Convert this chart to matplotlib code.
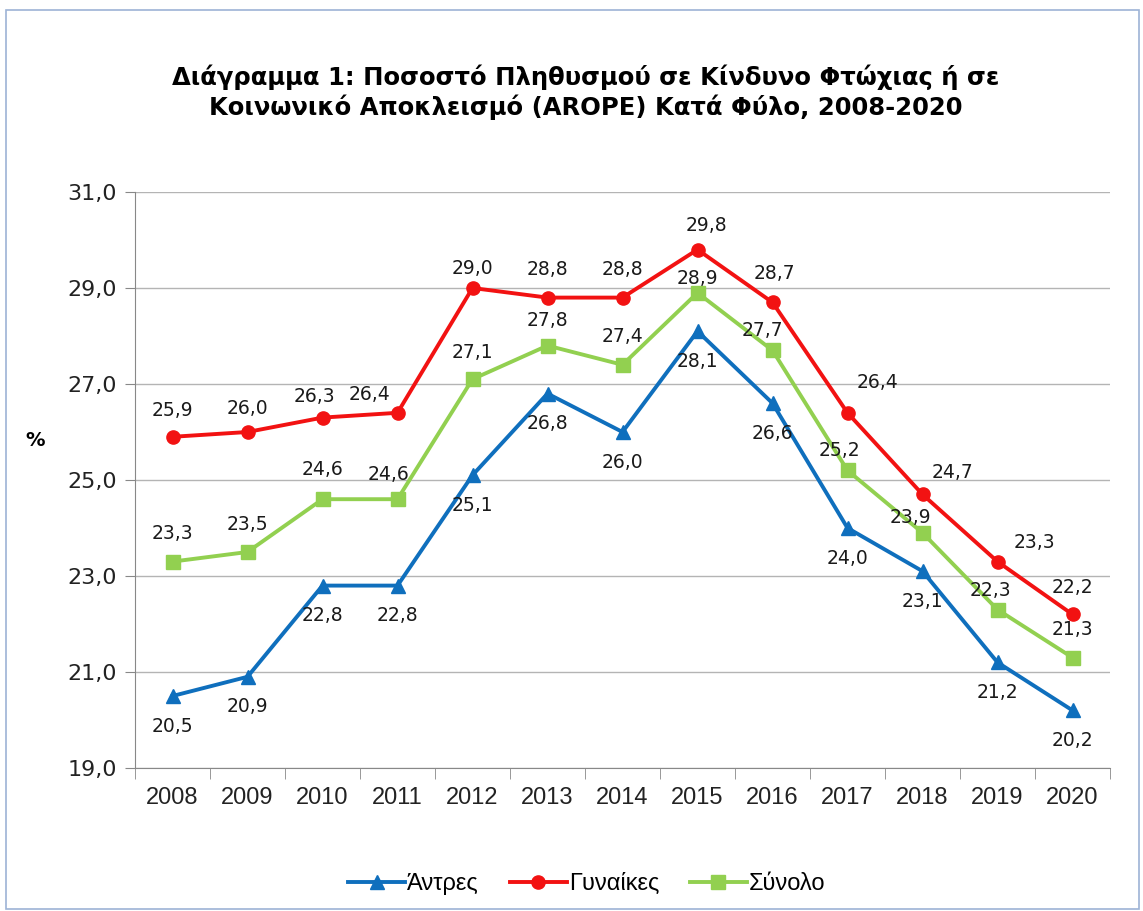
import matplotlib
matplotlib.use("Agg")
import matplotlib.pyplot as plt
from matplotlib.patches import Rectangle

# dati
years = [str(y) for y in range(2008, 2021)]
antres = [20.5, 20.9, 22.8, 22.8, 25.1, 26.8, 26.0, 28.1, 26.6, 24.0, 23.1, 21.2, 20.2]
gynaikes = [25.9, 26.0, 26.3, 26.4, 29.0, 28.8, 28.8, 29.8, 28.7, 26.4, 24.7, 23.3, 22.2]
synolo = [23.3, 23.5, 24.6, 24.6, 27.1, 27.8, 27.4, 28.9, 27.7, 25.2, 23.9, 22.3, 21.3]

# label offsets in pixels (dx, dy), dy up positive
off_antres = [(0, -30)] * 13
off_gyn = [(0, 26), (0, 24), (-8, 21), (-28, 18), (0, 20), (0, 28), (0, 28), (9, 24),
           (2, 29), (30, 30), (30, 22), (37, 19), (0, 27)]
off_syn = [(0, 28), (0, 28), (0, 30), (-9, 25), (0, 27), (0, 25), (0, 28), (0, 14),
           (-10, 20), (-8, 20), (-12, 15), (-7, 19), (0, 28)]

W, H = 1143, 911
fig = plt.figure(figsize=(W / 100, H / 100), dpi=100)
ax = fig.add_axes([135 / W, 1 - 768 / H, 975 / W, 576 / H])

# border round the chart
fig.patches.append(Rectangle((6 / W, 1 - 909 / H), 1133 / W, 899 / H, transform=fig.transFigure,
                             fill=False, edgecolor="#9db3d6", linewidth=1.2))

narrow = ["Liberation Sans Narrow", "Liberation Sans", "DejaVu Sans"]

x = list(range(len(years)))
series = [
    ("Άντρες", antres, "#0f6fbd", "^", off_antres),
    ("Γυναίκες", gynaikes, "#f21212", "o", off_gyn),
    ("Σύνολο", synolo, "#92d050", "s", off_syn),
]
for name, vals, col, mk, offs in series:
    ax.plot(x, vals, color=col, marker=mk, markersize=9.5, linewidth=2.8, label=name, zorder=3)
    for i, v in enumerate(vals):
        ax.annotate(f"{v:.1f}".replace(".", ","), (i, v), xytext=offs[i], textcoords="offset pixels",
                    ha="center", va="center", fontsize=13.5, color="#1a1a1a", zorder=4)

ax.set_xlim(-0.5, len(years) - 0.5)
ax.set_ylim(19, 31)
ax.set_yticks(range(19, 32, 2))
ax.set_yticklabels([f"{t},0" for t in range(19, 32, 2)], fontsize=16, color="#222222")
ax.set_xticks(x)
ax.set_xticklabels(years, fontsize=17, family=narrow, color="#222222")
ax.tick_params(axis="x", length=0, pad=14)
ax.set_xticks([i - 0.5 for i in range(len(years) + 1)], minor=True)
ax.tick_params(axis="x", which="minor", length=8, color="#888888", direction="out")
ax.tick_params(axis="y", length=7, color="#888888", pad=6)
ax.grid(axis="y", color="#b4b4b4", linewidth=1)
ax.set_axisbelow(True)
for s in ["top", "right"]:
    ax.spines[s].set_visible(False)
for s in ["left", "bottom"]:
    ax.spines[s].set_color("#888888")

fig.text(35 / W, 1 - 440 / H, "%", fontsize=14, fontweight="bold", ha="center", va="center")
fig.text(586 / W, 1 - 92 / H,
         "Διάγραμμα 1: Ποσοστό Πληθυσμού σε Κίνδυνο Φτώχιας ή σε\nΚοινωνικό Αποκλεισμό (AROPE) Κατά Φύλο, 2008-2020",
         fontsize=17.5, fontweight="bold", ha="center", va="center", linespacing=1.2)

fig.legend(loc="center", bbox_to_anchor=(587 / W, 1 - 884 / H), ncol=3, frameon=False,
           prop={"family": narrow, "size": 17},
           handlelength=2.4, handletextpad=0.1, columnspacing=1.3)

fig.savefig("out.png", dpi=100)
